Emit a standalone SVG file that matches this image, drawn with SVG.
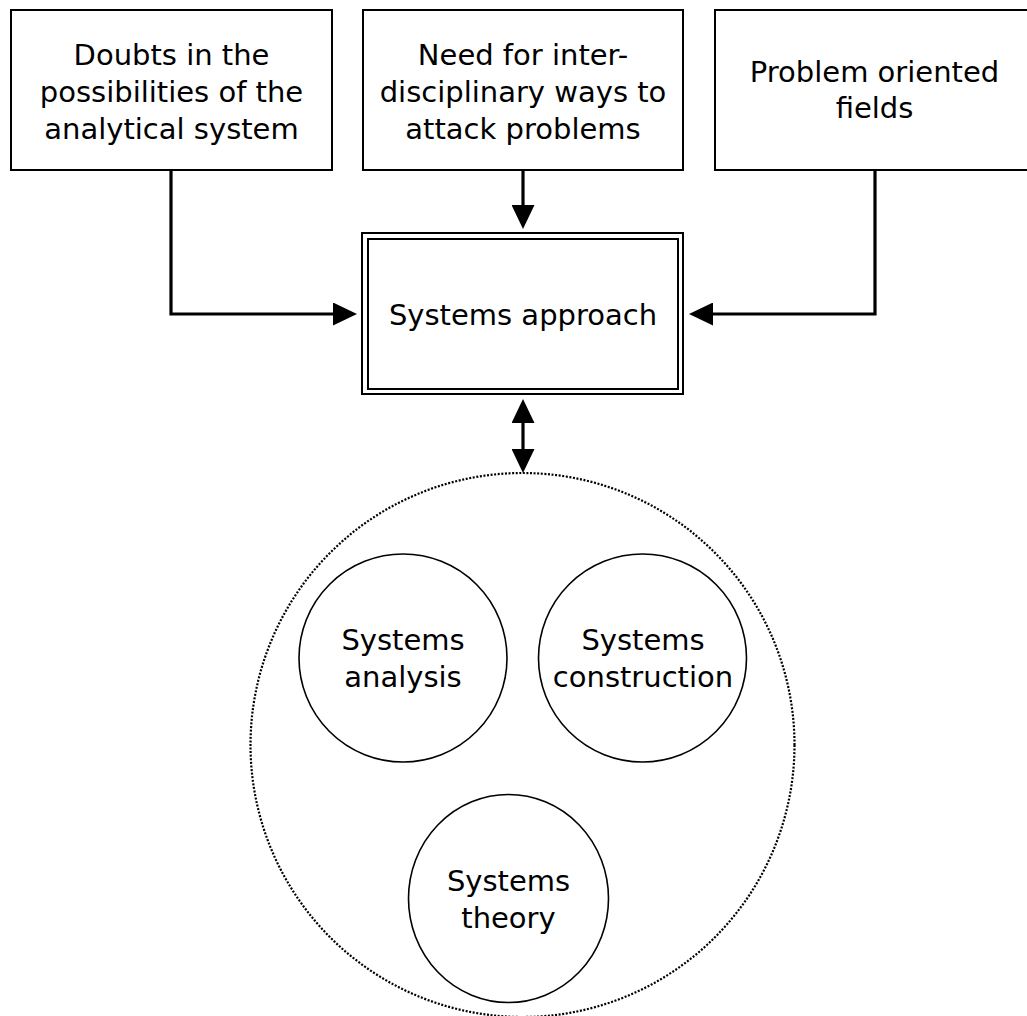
<svg xmlns="http://www.w3.org/2000/svg" width="1027" height="1016" viewBox="0 0 1027 1016">
  <style>
    .box { fill: #fff; stroke: #000; stroke-width: 2; }
    .ring { fill: #fff; stroke: #000; stroke-width: 1.6; }
    .dotted { fill: none; stroke: #000; stroke-width: 2.2; stroke-dasharray: 2 1.6; }
    .wire { fill: none; stroke: #000; stroke-width: 3.2; }
    text { font-family: "DejaVu Sans", "Liberation Sans", sans-serif; font-size: 29px; fill: #000; text-anchor: middle; }
  </style>
  <defs>
    <marker id="head" viewBox="0 0 24 23" refX="1" refY="11.5" markerWidth="24" markerHeight="23" markerUnits="userSpaceOnUse" orient="auto-start-reverse">
      <path d="M0,0 L24,11.5 L0,23 z" fill="#000"/>
    </marker>
  </defs>
  <rect width="1027" height="1016" fill="#fff"/>

  <!-- outer dotted region holding the three disciplines -->
  <g id="scope">
    <circle class="dotted" cx="522.5" cy="745" r="272"/>
  </g>

  <g id="connectors">
    <path class="wire" d="M171,170 V314 H334" marker-end="url(#head)"/>
    <path class="wire" d="M523,170 V206" marker-end="url(#head)"/>
    <path class="wire" d="M875,170 V314 H712" marker-end="url(#head)"/>
    <path class="wire" d="M523,422 V450" marker-start="url(#head)" marker-end="url(#head)"/>
  </g>

  <g id="doubts">
    <rect class="box" x="11" y="10" width="321" height="160"/>
    <text x="171.5" y="65">Doubts in the</text>
    <text x="171.5" y="102">possibilities of the</text>
    <text x="171.5" y="139">analytical system</text>
  </g>

  <g id="interdisciplinary">
    <rect class="box" x="363" y="10" width="320" height="160"/>
    <text x="523" y="65">Need for inter-</text>
    <text x="523" y="102">disciplinary ways to</text>
    <text x="523" y="139">attack problems</text>
  </g>

  <g id="problem-fields">
    <rect class="box" x="715" y="10" width="325" height="160"/>
    <text x="874.5" y="82">Problem oriented</text>
    <text x="874.5" y="118">fields</text>
  </g>

  <g id="systems-approach">
    <rect class="box" x="362" y="233" width="321" height="161"/>
    <rect class="box" x="368" y="239" width="310" height="150" fill="none"/>
    <text x="523" y="325">Systems approach</text>
  </g>

  <g id="systems-analysis">
    <circle class="ring" cx="403" cy="658" r="104"/>
    <text x="403" y="650">Systems</text>
    <text x="403" y="687">analysis</text>
  </g>

  <g id="systems-construction">
    <circle class="ring" cx="642.5" cy="658" r="104"/>
    <text x="643" y="650">Systems</text>
    <text x="643" y="687">construction</text>
  </g>

  <g id="systems-theory">
    <ellipse class="ring" cx="508.5" cy="898.5" rx="100" ry="104"/>
    <text x="508.5" y="891">Systems</text>
    <text x="508.5" y="928">theory</text>
  </g>
</svg>
